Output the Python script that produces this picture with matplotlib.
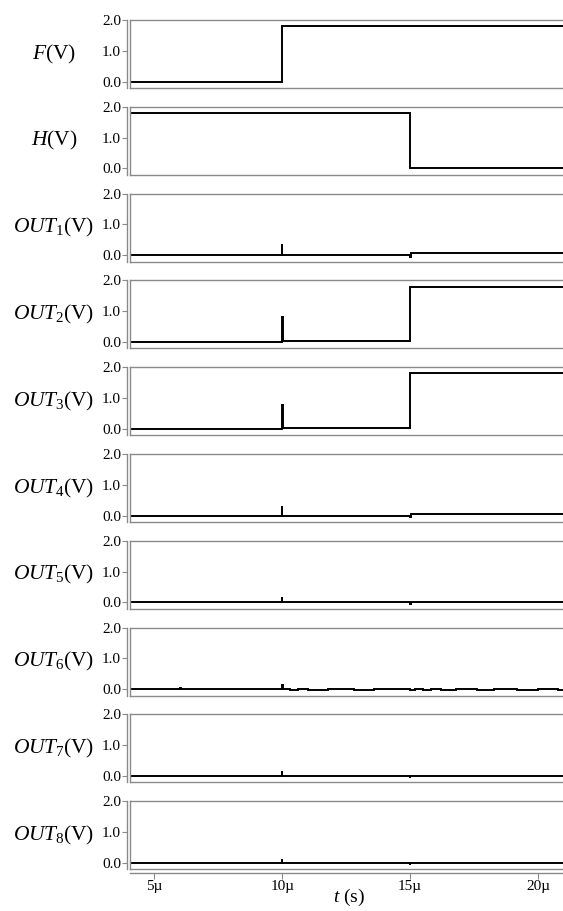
import matplotlib
matplotlib.use("Agg")
import matplotlib.pyplot as plt
from matplotlib.lines import Line2D

plt.rcParams["font.family"] = ["Liberation Serif", "DejaVu Serif"]
plt.rcParams["mathtext.fontset"] = "custom"
plt.rcParams["mathtext.rm"] = "Liberation Serif"
plt.rcParams["mathtext.it"] = "Liberation Serif:italic"

# Time axis in microseconds
x_ticks = [5, 10, 15, 20]
x_tick_labels = ["5µ", "10µ", "15µ", "20µ"]
y_ticks = [0.0, 1.0, 2.0]
y_tick_labels = ["0.0", "1.0", "2.0"]

# Signal names (rendered as y labels)
names = ["F", "H", "OUT1", "OUT2", "OUT3", "OUT4", "OUT5", "OUT6", "OUT7", "OUT8"]

# Piecewise waveforms: knot times (µs) and voltages (V)
f_t = [4.0, 10.0, 10.0, 21.0]
f_v = [0.0, 0.0, 1.8, 1.8]

h_t = [4.0, 15.0, 15.0, 21.0]
h_v = [1.8, 1.8, 0.0, 0.0]

out1_t = [4.0, 10.0, 10.0, 10.0, 15.0, 15.0, 15.03, 15.03, 21.0]
out1_v = [0.02, 0.02, 0.36, 0.02, 0.02, -0.05, -0.05, 0.07, 0.07]

out2_t = [4.0, 10.0, 10.0, 10.03, 10.03, 10.03, 15.0, 15.0, 21.0]
out2_v = [0.01, 0.01, 0.80, 0.80, 0.62, 0.04, 0.04, 1.80, 1.80]

out3_t = [4.0, 10.0, 10.0, 10.03, 10.03, 10.03, 15.0, 15.0, 21.0]
out3_v = [0.0, 0.0, 0.78, 0.78, 0.60, 0.03, 0.03, 1.80, 1.80]

out4_t = [4.0, 10.0, 10.0, 10.0, 15.0, 15.0, 15.03, 15.03, 21.0]
out4_v = [0.0, 0.0, 0.30, 0.0, 0.0, -0.06, -0.06, 0.05, 0.05]

out5_t = [4.0, 10.0, 10.0, 10.0, 15.0, 15.0, 15.03, 15.03, 21.0]
out5_v = [0.0, 0.0, 0.18, 0.0, 0.0, -0.05, -0.05, 0.0, 0.0]

out6_t = [4.0, 6.0, 6.0, 6.03, 6.03, 10.0, 10.0, 10.03, 10.03, 10.3, 10.3, 10.6, 10.6,
          11.0, 11.0, 11.8, 11.8, 12.8, 12.8, 13.6, 13.6, 14.7, 14.7, 15.0, 15.0,
          15.2, 15.2, 15.5, 15.5, 15.8, 15.8, 16.2, 16.2, 16.8, 16.8, 17.6, 17.6,
          18.3, 18.3, 19.2, 19.2, 20.0, 20.0, 20.8, 20.8, 21.0]
out6_v = [0.0, 0.0, 0.03, 0.03, 0.0, 0.0, 0.15, 0.15, 0.01, 0.01, -0.015, -0.015, 0.01,
          0.01, -0.015, -0.015, 0.015, 0.015, -0.015, -0.015, 0.015, 0.015, 0.02, 0.02,
          -0.04, -0.04, 0.015, 0.015, -0.015, -0.015, 0.015, 0.015, -0.015, -0.015,
          0.015, 0.015, -0.015, -0.015, 0.015, 0.015, -0.015, -0.015, 0.015, 0.015,
          -0.015, -0.015]

out7_t = [4.0, 10.0, 10.0, 10.0, 15.0, 15.0, 15.0, 21.0]
out7_v = [0.0, 0.0, 0.15, 0.0, 0.0, -0.06, 0.0, 0.0]

out8_t = [4.0, 10.0, 10.0, 10.0, 15.0, 15.0, 15.0, 21.0]
out8_v = [0.0, 0.0, 0.12, 0.0, 0.0, -0.06, 0.0, 0.0]

series = [(f_t, f_v), (h_t, h_v), (out1_t, out1_v), (out2_t, out2_v), (out3_t, out3_v),
          (out4_t, out4_v), (out5_t, out5_v), (out6_t, out6_v), (out7_t, out7_v),
          (out8_t, out8_v)]


def label_text(name):
    if name.startswith("OUT"):
        return r"$\mathit{OUT}_{\mathrm{%s}}\mathrm{(V)}$" % name[3:]
    return r"$\mathit{%s}\mathrm{(V)}$" % name


W, H = 563, 911
fig = plt.figure(figsize=(W / 100, H / 100), dpi=100)

left_px = 130
top0 = 20
pitch = 86.8
panel_h = 68
label_center_px = 54
frame = "#8a8a8a"

axes = []
for i, (name, (t, v)) in enumerate(zip(names, series)):
    top = top0 + pitch * i
    ax_w = 1.0 - left_px / W + 0.01
    ax = fig.add_axes([left_px / W, 1 - (top + panel_h) / H, ax_w, panel_h / H])
    ax.plot(t, v, color="black", lw=1.4, solid_joinstyle="miter")
    ax.set_xlim(4.05, 21.2)
    ax.set_ylim(-0.21, 2.0)
    ax.set_yticks(y_ticks)
    ax.set_yticklabels(y_tick_labels)
    ax.tick_params(axis="y", direction="out", length=3.5, width=0.8, color=frame,
                   labelsize=11, pad=0.5)
    for s in ["top", "bottom"]:
        ax.spines[s].set_color(frame)
        ax.spines[s].set_linewidth(1.0)
    ax.spines["right"].set_visible(False)
    ax.spines["left"].set_position(("outward", 2.5))
    ax.spines["left"].set_color(frame)
    ax.spines["left"].set_linewidth(1.0)
    # inner frame edge on the left
    ax.add_line(Line2D([0, 0], [0, 1], transform=ax.transAxes, color=frame, lw=1.0,
                       clip_on=False))
    ax.set_ylabel(label_text(name), rotation=0, fontsize=15.5, labelpad=0,
                  ha="center", va="center")
    ax.yaxis.set_label_coords((label_center_px - left_px) / (ax_w * W), 0.5)
    if i < len(names) - 1:
        ax.set_xticks([])
    else:
        ax.spines["bottom"].set_position(("outward", 2.5))
        ax.add_line(Line2D([0, 1], [0, 0], transform=ax.transAxes, color=frame, lw=1.0,
                           clip_on=False))
        ax.set_xticks(x_ticks)
        ax.set_xticklabels(x_tick_labels)
        ax.tick_params(axis="x", direction="out", length=4, width=0.8, color=frame,
                       labelsize=11, pad=1.5)
        ax.set_xlabel(r"$\mathit{t}\ \mathrm{(s)}$", fontsize=14, labelpad=-4.5)
    axes.append(ax)

fig.savefig("out.png", dpi=100)
